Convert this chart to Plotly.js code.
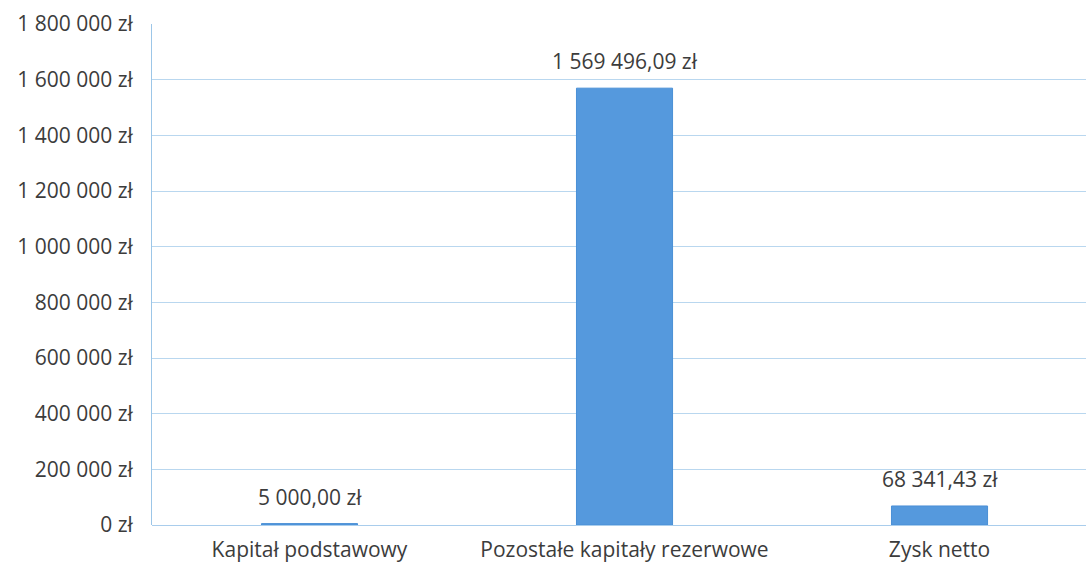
<!DOCTYPE html>
<html>
<head>
<meta charset="utf-8">
<script src="https://cdn.plot.ly/plotly-3.0.1.min.js"></script>
<style>html,body{margin:0;padding:0;background:#fff;}#chart{width:1086px;height:567px;}</style>
</head>
<body>
<div id="chart"></div>
<script>
var categories = ["Kapitał podstawowy", "Pozostałe kapitały rezerwowe", "Zysk netto"];
var values = [5000.00, 1569496.09, 68341.43];
var tickValues = [0, 200000, 400000, 600000, 800000, 1000000, 1200000, 1400000, 1600000, 1800000];

var fontFam = "'Open Sans', sans-serif";
var textCol = "#3c3c3c";
var fs = 21;

function groupThousands(s){ return s.replace(/\B(?=(\d{3})+(?!\d))/g, " "); }
function fmtMoney(v){
  var parts = v.toFixed(2).split(".");
  return groupThousands(parts[0]) + "," + parts[1] + " zł";
}
function fmtTick(v){ return groupThousands(String(Math.round(v))) + " zł"; }

var tickText = tickValues.map(fmtTick);

var trace = {
  type: "bar",
  x: categories,
  y: values,
  marker: {color: "#5599dd", line: {color: "#4a8fd6", width: 1}},
  width: 0.305,
  hoverinfo: "none"
};

var annotations = categories.map(function(c, i){
  return {
    x: c, y: values[i], xref: "x", yref: "y",
    text: fmtMoney(values[i]),
    showarrow: false, yanchor: "bottom", yshift: 11,
    font: {family: fontFam, size: fs, color: textCol}
  };
});

var layout = {
  width: 1086, height: 567,
  margin: {l: 152, r: 0, t: 24, b: 42},
  paper_bgcolor: "#ffffff",
  plot_bgcolor: "#ffffff",
  showlegend: false,
  font: {family: fontFam, size: fs, color: textCol},
  xaxis: {
    type: "category",
    range: [-0.5, 2.465],
    showgrid: false,
    zeroline: false,
    showline: false,
    ticks: "",
    ticklabelstandoff: 10,
    tickfont: {family: fontFam, size: fs, color: textCol}
  },
  yaxis: {
    range: [0, 1800000],
    tickvals: tickValues,
    ticktext: tickText,
    showgrid: true,
    gridcolor: "#b9d7ef",
    gridwidth: 1,
    zeroline: true,
    zerolinecolor: "#a9cdec",
    zerolinewidth: 1,
    showline: true,
    linecolor: "#9cc6e8",
    linewidth: 1,
    ticks: "",
    ticklabelstandoff: 14,
    tickfont: {family: fontFam, size: fs, color: textCol}
  },
  annotations: annotations
};

Plotly.newPlot("chart", [trace], layout, {displayModeBar: false, staticPlot: true});
</script>
</body>
</html>
